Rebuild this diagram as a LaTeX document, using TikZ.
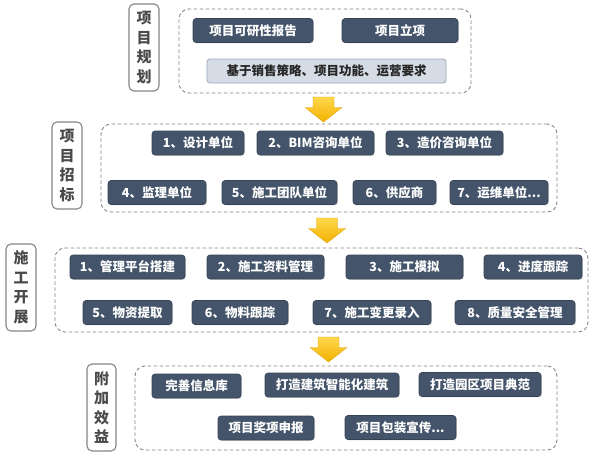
\documentclass[tikz,border=0pt]{standalone}
\usepackage{fontspec}
\setmainfont{Noto Sans CJK SC}
\usetikzlibrary{shadows}
\definecolor{boxblue}{HTML}{44546A}
\definecolor{lightfill}{HTML}{D6DCE5}
\definecolor{lightline}{HTML}{9AA8BC}
\definecolor{grayline}{HTML}{858585}
\definecolor{labtext}{HTML}{4A4A4A}
\definecolor{arrtop}{HTML}{FFD84D}
\definecolor{arrbot}{HTML}{F2B100}
\tikzset{
  x=1pt, y=-1pt,
  dbox/.style={draw=boxblue!80!black, line width=0.6pt, fill=boxblue, rounded corners=3pt,
    text=white, font=\fontsize{12.5}{14}\selectfont\bfseries, inner sep=0pt,
    minimum height=24pt, drop shadow={opacity=0.25, shadow xshift=0.8pt, shadow yshift=-0.8pt}},
  lbox/.style={draw=lightline, line width=0.8pt, fill=lightfill, rounded corners=3pt,
    text=black!85, font=\fontsize{12.5}{14}\selectfont\bfseries, inner sep=0pt, minimum height=24pt},
  labbox/.style={draw=grayline, line width=1.1pt, fill=white, rounded corners=5pt,
    text=labtext, font=\fontsize{15}{19.5}\selectfont\bfseries, align=center, inner sep=0pt,
    minimum width=30pt, minimum height=87pt},
  dashbox/.style={draw=grayline, line width=0.9pt, dash pattern=on 3.5pt off 2.5pt,
    rounded corners=10pt, inner sep=0pt},
  pics/downarrow/.style={code={
    \shade[top color=arrtop, bottom color=arrbot, draw=arrbot!90!black, line width=0.3pt]
      (-10.5,0) -- (10.5,0) -- (10.5,10.5) -- (18.5,10.5) -- (0,25) -- (-18.5,10.5) -- (-10.5,10.5) -- cycle;
  }}
}
\begin{document}
\begin{tikzpicture}
\useasboundingbox[fill=white] (0,0) rectangle (600,459);

% ---------- Section 1 ----------
\node[labbox] (lab1) at (144,47.5) {项\\目\\规\\划};
\node[dashbox, minimum width=292pt, minimum height=84pt] (d1) at (325,51) {};
\node[dbox, minimum width=120pt] (b11) at (253,30.5) {项目可研性报告};
\node[dbox, minimum width=116pt] (b12) at (400,30.5) {项目立项};
\node[lbox, minimum width=239pt] (b13) at (326.5,71) {基于销售策略、项目功能、运营要求};
\pic at (323.5,97) {downarrow};

% ---------- Section 2 ----------
\node[labbox] (lab2) at (67,165.5) {项\\目\\招\\标};
\node[dashbox, minimum width=456pt, minimum height=88pt] (d2) at (329,168) {};
\node[dbox, minimum width=92pt] (b21) at (198,143) {1、设计单位};
\node[dbox, minimum width=117pt] (b22) at (315.5,143) {2、BIM咨询单位};
\node[dbox, minimum width=117pt] (b23) at (444.5,143) {3、造价咨询单位};
\node[dbox, minimum width=98pt] (b24) at (157,192.5) {4、监理单位};
\node[dbox, minimum width=115pt] (b25) at (279.5,192.5) {5、施工团队单位};
\node[dbox, minimum width=83pt] (b26) at (394.5,192.5) {6、供应商};
\node[dbox, minimum width=98pt] (b27) at (499,192.5) {7、运维单位...};
\pic at (327,218) {downarrow};

% ---------- Section 3 ----------
\node[labbox] (lab3) at (21,287.5) {施\\工\\开\\展};
\node[dashbox, minimum width=533pt, minimum height=84pt] (d3) at (321.5,290) {};
\node[dbox, minimum width=115pt] (b31) at (127.5,267) {1、管理平台搭建};
\node[dbox, minimum width=117pt] (b32) at (265.5,267) {2、施工资料管理};
\node[dbox, minimum width=117pt] (b33) at (404.5,267) {3、施工模拟};
\node[dbox, minimum width=98pt] (b34) at (533,267) {4、进度跟踪};
\node[dbox, minimum width=89pt] (b35) at (127.5,312.5) {5、物资提取};
\node[dbox, minimum width=96pt] (b36) at (240,312.5) {6、物料跟踪};
\node[dbox, minimum width=118pt] (b37) at (372,312.5) {7、施工变更录入};
\node[dbox, minimum width=120pt] (b38) at (515,312.5) {8、质量安全管理};
\pic at (328.5,337) {downarrow};

% ---------- Section 4 ----------
\node[labbox, minimum width=29pt] (lab4) at (101.5,407.5) {附\\加\\效\\益};
\node[dashbox, minimum width=422pt, minimum height=84pt] (d4) at (346,408) {};
\node[dbox, minimum width=89pt] (b41) at (196.5,386) {完善信息库};
\node[dbox, minimum width=134pt] (b42) at (332,385) {打造建筑智能化建筑};
\node[dbox, minimum width=122pt] (b43) at (480,384.5) {打造园区项目典范};
\node[dbox, minimum width=96pt] (b44) at (266,428) {项目奖项申报};
\node[dbox, minimum width=111pt] (b45) at (400.5,427.5) {项目包装宣传...};
\end{tikzpicture}
\end{document}
